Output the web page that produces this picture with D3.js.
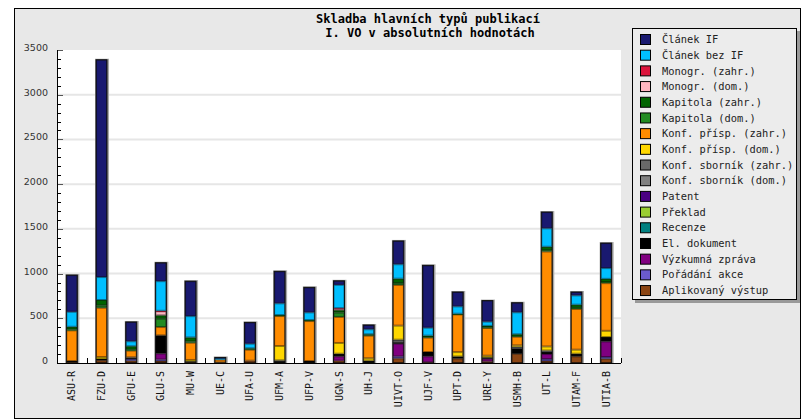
<!DOCTYPE html>
<html>
<head>
<meta charset="UTF-8" />
<title>Skladba hlavních typů publikací</title>
<script src="https://d3js.org/d3.v7.min.js"></script>
<style>
    body { margin: 0; background: white; }
    .ylab { font-family: "DejaVu Sans", sans-serif; font-size: 9.5px; fill: #333; }
    .xlab { font-family: "DejaVu Sans Mono", monospace; font-size: 10px; fill: #111; }
    .title { font-family: "DejaVu Sans Mono", monospace; font-size: 12px; font-weight: bold; fill: #000; }
    .leg text { font-family: "DejaVu Sans Mono", monospace; font-size: 10.4px; fill: #222; }
</style>
</head>
<body>
<svg width="802" height="420"></svg>
<script>
// ústavy (x axis)
var categories = ["ASU-R", "FZU-D", "GFU-E", "GLU-S", "MU-W", "UE-C", "UFA-U", "UFM-A", "UFP-V", "UGN-S",
    "UH-J", "UIVT-O", "UJF-V", "UPT-D", "URE-Y", "USMH-B", "UT-L", "UTAM-F", "UTIA-B"];

// series values, one per category
var clanekIF     = [410, 2430, 216, 206, 391, 5, 238, 358, 280, 45, 48, 261, 697, 161, 235, 107, 182, 38, 280];
var clanekBezIF  = [168, 257, 56, 331, 238, 20, 52, 131, 86, 261, 56, 161, 89, 82, 48, 246, 206, 104, 120];
var monogrZahr   = [0, 0, 0, 6, 0, 0, 0, 0, 0, 4, 0, 0, 0, 0, 0, 0, 0, 0, 0];
var monogrDom    = [0, 0, 0, 45, 0, 0, 0, 0, 0, 19, 0, 0, 0, 0, 0, 0, 0, 0, 0];
var kapitolaZahr = [30, 60, 38, 38, 45, 0, 15, 11, 11, 26, 15, 50, 22, 8, 15, 27, 38, 35, 35];
var kapitolaDom  = [10, 26, 10, 93, 14, 0, 0, 0, 0, 49, 0, 20, 0, 0, 8, 0, 15, 13, 13];
var konfZahr     = [343, 551, 75, 93, 193, 30, 123, 335, 447, 291, 253, 455, 161, 421, 310, 97, 1062, 455, 533];
var konfDom      = [0, 22, 0, 0, 15, 0, 0, 160, 0, 120, 27, 157, 0, 49, 19, 15, 45, 45, 70];
var sbornikZahr  = [0, 0, 8, 0, 0, 0, 0, 8, 0, 0, 0, 20, 0, 0, 0, 19, 15, 0, 0];
var sbornikDom   = [0, 0, 0, 0, 0, 0, 0, 0, 0, 0, 0, 7, 0, 0, 0, 0, 0, 0, 0];
var patent       = [0, 0, 0, 0, 0, 0, 0, 0, 0, 0, 0, 0, 0, 0, 0, 0, 0, 0, 0];
var preklad      = [0, 0, 0, 0, 0, 0, 0, 0, 0, 0, 0, 0, 0, 0, 0, 0, 0, 0, 0];
var recenze      = [0, 0, 0, 0, 0, 0, 0, 0, 0, 0, 0, 0, 0, 0, 0, 0, 0, 0, 0];
var elDokument   = [12, 15, 8, 203, 10, 0, 0, 22, 22, 30, 26, 18, 49, 22, 15, 59, 25, 30, 49];
var vyzkumna     = [0, 0, 0, 67, 0, 0, 0, 0, 0, 48, 0, 142, 66, 0, 30, 0, 56, 0, 174];
var poradani     = [0, 0, 22, 17, 0, 0, 0, 0, 0, 0, 0, 22, 0, 0, 0, 0, 22, 0, 19];
var aplikovany   = [10, 30, 26, 22, 9, 7, 26, 0, 0, 26, 0, 52, 8, 51, 18, 104, 22, 74, 48];

// legend order (top of bar first)
var seriesNames = ["Článek IF", "Článek bez IF", "Monogr. (zahr.)", "Monogr. (dom.)", "Kapitola (zahr.)",
    "Kapitola (dom.)", "Konf. přísp. (zahr.)", "Konf. přísp. (dom.)", "Konf. sborník (zahr.)",
    "Konf. sborník (dom.)", "Patent", "Překlad", "Recenze", "El. dokument", "Výzkumná zpráva",
    "Pořádání akce", "Aplikovaný výstup"];
var seriesValues = [clanekIF, clanekBezIF, monogrZahr, monogrDom, kapitolaZahr, kapitolaDom, konfZahr,
    konfDom, sbornikZahr, sbornikDom, patent, preklad, recenze, elDokument, vyzkumna, poradani, aplikovany];
var seriesColors = ["#191970", "#00bfff", "#dc143c", "#ffb6c1", "#006400", "#228b22", "#ff8c00", "#ffd700",
    "#696969", "#808080", "#4b0082", "#9acd32", "#008080", "#000000", "#800080", "#6a5acd", "#8b4513"];

var yTicks = [0, 500, 1000, 1500, 2000, 2500, 3000, 3500];

function draw() {
    var svg = d3.select("svg");

    // outer frame
    svg.append("rect").attr("x", 14.5).attr("y", 8.5).attr("width", 786).attr("height", 410)
        .attr("fill", "#e8e8e8").attr("stroke", "black");

    var pLeft = 57, pRight = 621, pTop = 50, pBottom = 363;

    var x = d3.scaleBand().domain(categories).range([pLeft, pRight]).padding(0);
    var y = d3.scaleLinear().domain([0, 3500]).range([pBottom, pTop]);

    // plot area
    svg.append("rect").attr("x", pLeft).attr("y", pTop).attr("width", pRight - pLeft).attr("height", pBottom - pTop)
        .attr("fill", "white");

    // grid
    svg.append("g").selectAll("line").data(yTicks.slice(1, -1)).enter().append("line")
        .attr("x1", pLeft).attr("x2", pRight)
        .attr("y1", d => y(d)).attr("y2", d => y(d))
        .attr("stroke", "#e6e6e6").attr("stroke-width", 2);

    // stacked data
    var table = categories.map(function (c, i) {
        var row = { cat: c };
        seriesNames.forEach(function (s, j) { row[s] = seriesValues[j][i]; });
        return row;
    });
    var keys = seriesNames.slice().reverse();
    var color = d3.scaleOrdinal().domain(seriesNames).range(seriesColors);
    var stacked = d3.stack().keys(keys)(table);

    var barW = 11;
    var bx = d => x(d.data.cat) + (x.bandwidth() - barW) / 2;

    // grey halo behind each bar
    svg.append("g").selectAll("rect").data(stacked[stacked.length - 1]).enter().append("rect")
        .attr("x", d => bx(d) - 1)
        .attr("y", d => y(d[1]) - 1)
        .attr("width", barW + 3)
        .attr("height", d => y(0) - y(d[1]) + 1)
        .attr("fill", "#aaa");

    svg.append("g").selectAll("g").data(stacked).enter().append("g")
        .attr("fill", d => color(d.key))
        .attr("stroke", d => d3.color(color(d.key)).darker(1.5))
        .selectAll("rect").data(d => d.filter(p => p[1] - p[0] > 0)).enter().append("rect")
        .attr("x", d => bx(d) + 0.5)
        .attr("y", d => y(d[1]) + 0.5)
        .attr("width", barW - 1)
        .attr("height", d => Math.max(0.1, y(d[0]) - y(d[1]) - 1))
        .attr("stroke-width", 1);

    // bar outline
    svg.append("g").selectAll("rect").data(stacked[stacked.length - 1]).enter().append("rect")
        .attr("x", d => bx(d))
        .attr("y", d => y(d[1]))
        .attr("width", barW)
        .attr("height", d => y(0) - y(d[1]))
        .attr("fill", "none").attr("stroke", "#111").attr("stroke-width", 1);

    // y axis with minor ticks
    var minor = d3.range(0, 3501, 100);
    svg.append("g").selectAll("line").data(minor).enter().append("line")
        .attr("x1", pLeft).attr("x2", d => d % 500 === 0 ? pLeft + 6 : pLeft + 4)
        .attr("y1", d => Math.round(y(d)) + 0.5).attr("y2", d => Math.round(y(d)) + 0.5)
        .attr("stroke", d => d % 500 === 0 ? "#555" : "#000").attr("stroke-width", 1);
    svg.append("line").attr("x1", pLeft + 0.5).attr("x2", pLeft + 0.5).attr("y1", pTop).attr("y2", pBottom + 1)
        .attr("stroke", "black");
    svg.append("g").selectAll("text").data(yTicks).enter().append("text")
        .attr("class", "ylab")
        .attr("x", 48).attr("y", d => y(d) + 1)
        .attr("text-anchor", "end")
        .text(d => d);

    // x axis
    svg.append("line").attr("x1", pLeft).attr("x2", pRight).attr("y1", pBottom + 0.5).attr("y2", pBottom + 0.5)
        .attr("stroke", "black");
    svg.append("g").selectAll("line").data(categories).enter().append("line")
        .attr("x1", d => Math.round(x(d) + x.bandwidth()) + 0.5)
        .attr("x2", d => Math.round(x(d) + x.bandwidth()) + 0.5)
        .attr("y1", pBottom - 5).attr("y2", pBottom)
        .attr("stroke", "black");
    svg.append("g").selectAll("text").data(categories).enter().append("text")
        .attr("class", "xlab")
        .attr("transform", d => "translate(" + (x(d) + x.bandwidth() / 2) + "," + (pBottom + 8) + ") rotate(-90)")
        .attr("text-anchor", "end")
        .attr("dy", "0.35em")
        .text(d => d);

    // title
    svg.append("text").attr("class", "title").attr("x", 428).attr("y", 23).attr("text-anchor", "middle")
        .text("Skladba hlavních typů publikací");
    svg.append("text").attr("class", "title").attr("x", 430).attr("y", 37).attr("text-anchor", "middle")
        .text("I. VO v absolutních hodnotách");

    // legend
    var leg = svg.append("g").attr("class", "leg");
    leg.append("rect").attr("x", 635).attr("y", 31).attr("width", 165).attr("height", 272).attr("fill", "#999");
    leg.append("rect").attr("x", 632.5).attr("y", 28.5).attr("width", 164).attr("height", 271)
        .attr("fill", "#ececec").attr("stroke", "black");
    var row = leg.selectAll("g.row").data(seriesNames).enter().append("g")
        .attr("transform", (d, i) => "translate(0," + (39.5 + i * 15.69) + ")");
    row.append("rect").attr("x", 640.5).attr("y", -5).attr("width", 10).attr("height", 10)
        .attr("fill", d => color(d)).attr("stroke", "black");
    row.append("text").attr("x", 662).attr("y", 0).attr("dy", "0.35em").text(d => d);
}
draw();
</script>
</body>
</html>
